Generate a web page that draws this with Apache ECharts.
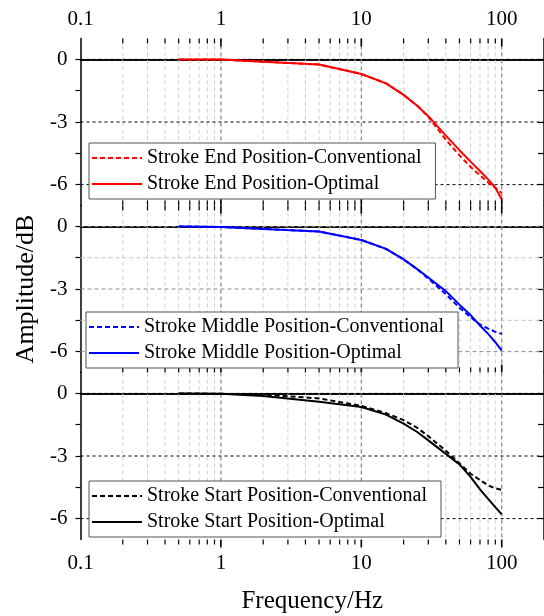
<!DOCTYPE html>
<html><head><meta charset="utf-8">
<script src="https://cdn.jsdelivr.net/npm/echarts@6/dist/echarts.min.js"></script>
<style>html,body{margin:0;padding:0;background:#fff}#c{width:544px;height:616px}</style>
</head><body><div id="c"></div>
<script>
// ---- data (frequency in Hz, amplitude in dB) ----
const freq = [0.5, 1, 2, 5, 10, 15, 20, 25, 30, 40, 50, 60, 70, 80, 90, 100];
const endConv = [0, -0.01, -0.11, -0.25, -0.7, -1.15, -1.7, -2.22, -2.75, -3.85, -4.6, -5.15, -5.55, -5.9, -6.15, -6.4];
const endOpt  = [0, -0.01, -0.11, -0.25, -0.7, -1.15, -1.7, -2.22, -2.72, -3.65, -4.35, -4.9, -5.35, -5.75, -6.15, -6.7];
const midConv = [0, -0.03, -0.12, -0.25, -0.65, -1.08, -1.58, -2.05, -2.5, -3.25, -3.9, -4.35, -4.7, -4.9, -5.05, -5.15];
const midOpt  = [0, -0.03, -0.12, -0.25, -0.65, -1.08, -1.58, -2.05, -2.45, -3.1, -3.75, -4.25, -4.75, -5.15, -5.55, -5.95];
const startConv = [0, -0.02, -0.06, -0.24, -0.6, -0.95, -1.28, -1.65, -2.05, -2.75, -3.35, -3.85, -4.15, -4.4, -4.55, -4.62];
const startOpt  = [0, -0.02, -0.13, -0.4, -0.65, -1.02, -1.45, -1.85, -2.25, -2.9, -3.4, -4.0, -4.6, -5.05, -5.45, -5.8];

const xDecades = [0.1, 1, 10, 100];
const xLabels = ['0.1', '1', '10', '100'];
const yLabelValues = [0, -3, -6];
const yTickValues = [0, -1.5, -3, -4.5, -6];
const yMinorGrid = [-1.5, -4.5];
const xMinor = [];
[0.1, 1, 10].forEach(d => { for (let k = 2; k <= 9; k++) xMinor.push(+(d * k).toPrecision(3)); });

const names = [
  ['Stroke End Position-Conventional', 'Stroke End Position-Optimal'],
  ['Stroke Middle Position-Conventional', 'Stroke Middle Position-Optimal'],
  ['Stroke Start Position-Conventional', 'Stroke Start Position-Optimal']
];
const seriesData = [[endConv, endOpt], [midConv, midOpt], [startConv, startOpt]];

// ---- styles ----
const FONT = 'Liberation Serif';
const colors = ['#ff0000', '#0000ff', '#000000'];
const gridTops = [38.5, 205.5, 372.5];
const gridH = 167;
const legendPos = [[89, 143], [86, 312], [89, 481]];
const Y_MIN = -7, Y_MAX = 1;

const grid = gridTops.map(t => ({left: 80.5, right: 0, top: t, height: gridH}));
const xAxis = [], yAxis = [], series = [], legend = [];

function isDecade(v) { return xDecades.some(d => Math.abs(d - v) / d < 1e-6); }

gridTops.forEach((t, i) => {
  const baseX = {
    gridIndex: i, type: 'log', logBase: 10, min: 0.1, max: 200,
    axisLine: {show: true, lineStyle: {color: '#000', width: 1.5}},
    axisTick: {show: false}, splitLine: {show: false}, minorTick: {show: false},
    axisLabel: {
      fontFamily: FONT, fontSize: 21, color: '#000', margin: 12,
      showMaxLabel: false,
      formatter: v => { const k = xDecades.findIndex(d => Math.abs(d - v) / d < 1e-6); return k >= 0 ? xLabels[k] : ''; }
    }
  };
  xAxis.push(Object.assign({}, baseX, {position: 'bottom', axisLabel: Object.assign({}, baseX.axisLabel, {show: i === 2, margin: 13})},
    i === 2 ? {name: 'Frequency/Hz', nameLocation: 'middle', nameGap: 49, nameTextStyle: {fontFamily: FONT, fontSize: 25, color: '#000'}} : {}));
  xAxis.push(Object.assign({}, baseX, {position: 'top', axisLabel: Object.assign({}, baseX.axisLabel, {show: i === 0, margin: 9})}));
  const baseY = {
    gridIndex: i, type: 'value', min: Y_MIN, max: Y_MAX,
    axisLine: {show: true, lineStyle: {color: '#000', width: 1.5}},
    splitLine: {show: false}
  };
  yAxis.push(Object.assign({}, baseY, {
    position: 'left',
    axisTick: {show: true, inside: false, length: 5, customValues: yTickValues, lineStyle: {color: '#000', width: 1.2}},
    axisLabel: {customValues: yLabelValues, fontFamily: FONT, fontSize: 21, color: '#000', margin: 13}
  }, i === 1 ? {name: 'Amplitude/dB', nameLocation: 'middle', nameGap: 38, nameTextStyle: {fontFamily: FONT, fontSize: 26, color: '#000'}} : {}));
  yAxis.push(Object.assign({}, baseY, {
    position: 'right',
    axisTick: {show: true, inside: true, length: 6, customValues: yTickValues, lineStyle: {color: '#000', width: 1.2}},
    axisLabel: {show: false}
  }));

  const xi = 2 * i, yi = 2 * i;
  // vertical grid lines + x ticks
  const vData = xMinor.map(v => [v, 0]).concat([1, 10, 100].map(v => [v, 0]));
  series.push({
    type: 'custom', xAxisIndex: xi, yAxisIndex: yi, z: 1, silent: true, clip: false,
    data: vData,
    renderItem: (params, api) => {
      const x = api.value(0);
      const p1 = api.coord([x, Y_MAX]), p2 = api.coord([x, Y_MIN]);
      const major = isDecade(x);
      const children = [{
        type: 'line', shape: {x1: p1[0], y1: p1[1], x2: p2[0], y2: p2[1]},
        style: {stroke: major ? '#8c8c8c' : '#cfcfcf', lineWidth: major ? 1.3 : 1, lineDash: [4, 3]}
      }];
      const L = major ? 8 : 5;
      const tw = major ? 1.6 : 1.2;
      if (i === 2) children.push({type: 'line', shape: {x1: p2[0], y1: p2[1], x2: p2[0], y2: p2[1] + L}, style: {stroke: '#000', lineWidth: tw}});
      else children.push({type: 'line', shape: {x1: p2[0], y1: p2[1], x2: p2[0], y2: p2[1] - L}, style: {stroke: '#000', lineWidth: tw}});
      if (i !== 2) children.push({type: 'line', shape: {x1: p1[0], y1: p1[1], x2: p1[0], y2: p1[1] + L}, style: {stroke: '#000', lineWidth: tw}});
      return {type: 'group', children};
    }
  });
  // horizontal grid lines
  const hVals = i === 1 ? yTickValues : yLabelValues;
  series.push({
    type: 'custom', xAxisIndex: xi, yAxisIndex: yi, z: 2, silent: true, clip: false,
    data: hVals.map(v => [1, v]),
    renderItem: (params, api) => {
      const y = api.coord([1, api.value(1)])[1];
      const cs = params.coordSys;
      const minor = yMinorGrid.indexOf(api.value(1)) >= 0;
      const stroke = i === 1 ? (minor ? '#c4c4c4' : '#8c8c8c') : '#000';
      return {type: 'line', shape: {x1: cs.x, y1: y, x2: cs.x + cs.width, y2: y},
        style: {stroke, lineWidth: 1, lineDash: i === 1 ? [4, 3] : [3, 3]}};
    }
  });
  // curves
  [0, 1].forEach(k => {
    series.push({
      type: 'line', name: names[i][k], xAxisIndex: xi, yAxisIndex: yi, z: 3,
      symbol: 'none', showSymbol: false, smooth: false,
      data: freq.map((f, j) => [f, seriesData[i][k][j]]),
      lineStyle: {color: colors[i], width: 2, type: k === 0 ? [5, 3] : 'solid'},
      itemStyle: {color: colors[i]}
    });
  });
  legend.push({
    data: names[i], orient: 'vertical', left: legendPos[i][0], top: legendPos[i][1],
    itemWidth: 50, itemHeight: 14, itemGap: 6, padding: [5, 14, 5, 2],
    borderColor: '#555', borderWidth: 1, backgroundColor: '#fff',
    selectedMode: false,
    itemStyle: {opacity: 0},
    textStyle: {fontFamily: FONT, fontSize: 20, color: '#000'}
  });
});

const chart = echarts.init(document.getElementById('c'), null, {renderer: 'canvas'});
chart.setOption({animation: false, backgroundColor: '#fff', grid, xAxis, yAxis, series, legend});
</script>
</body></html>
